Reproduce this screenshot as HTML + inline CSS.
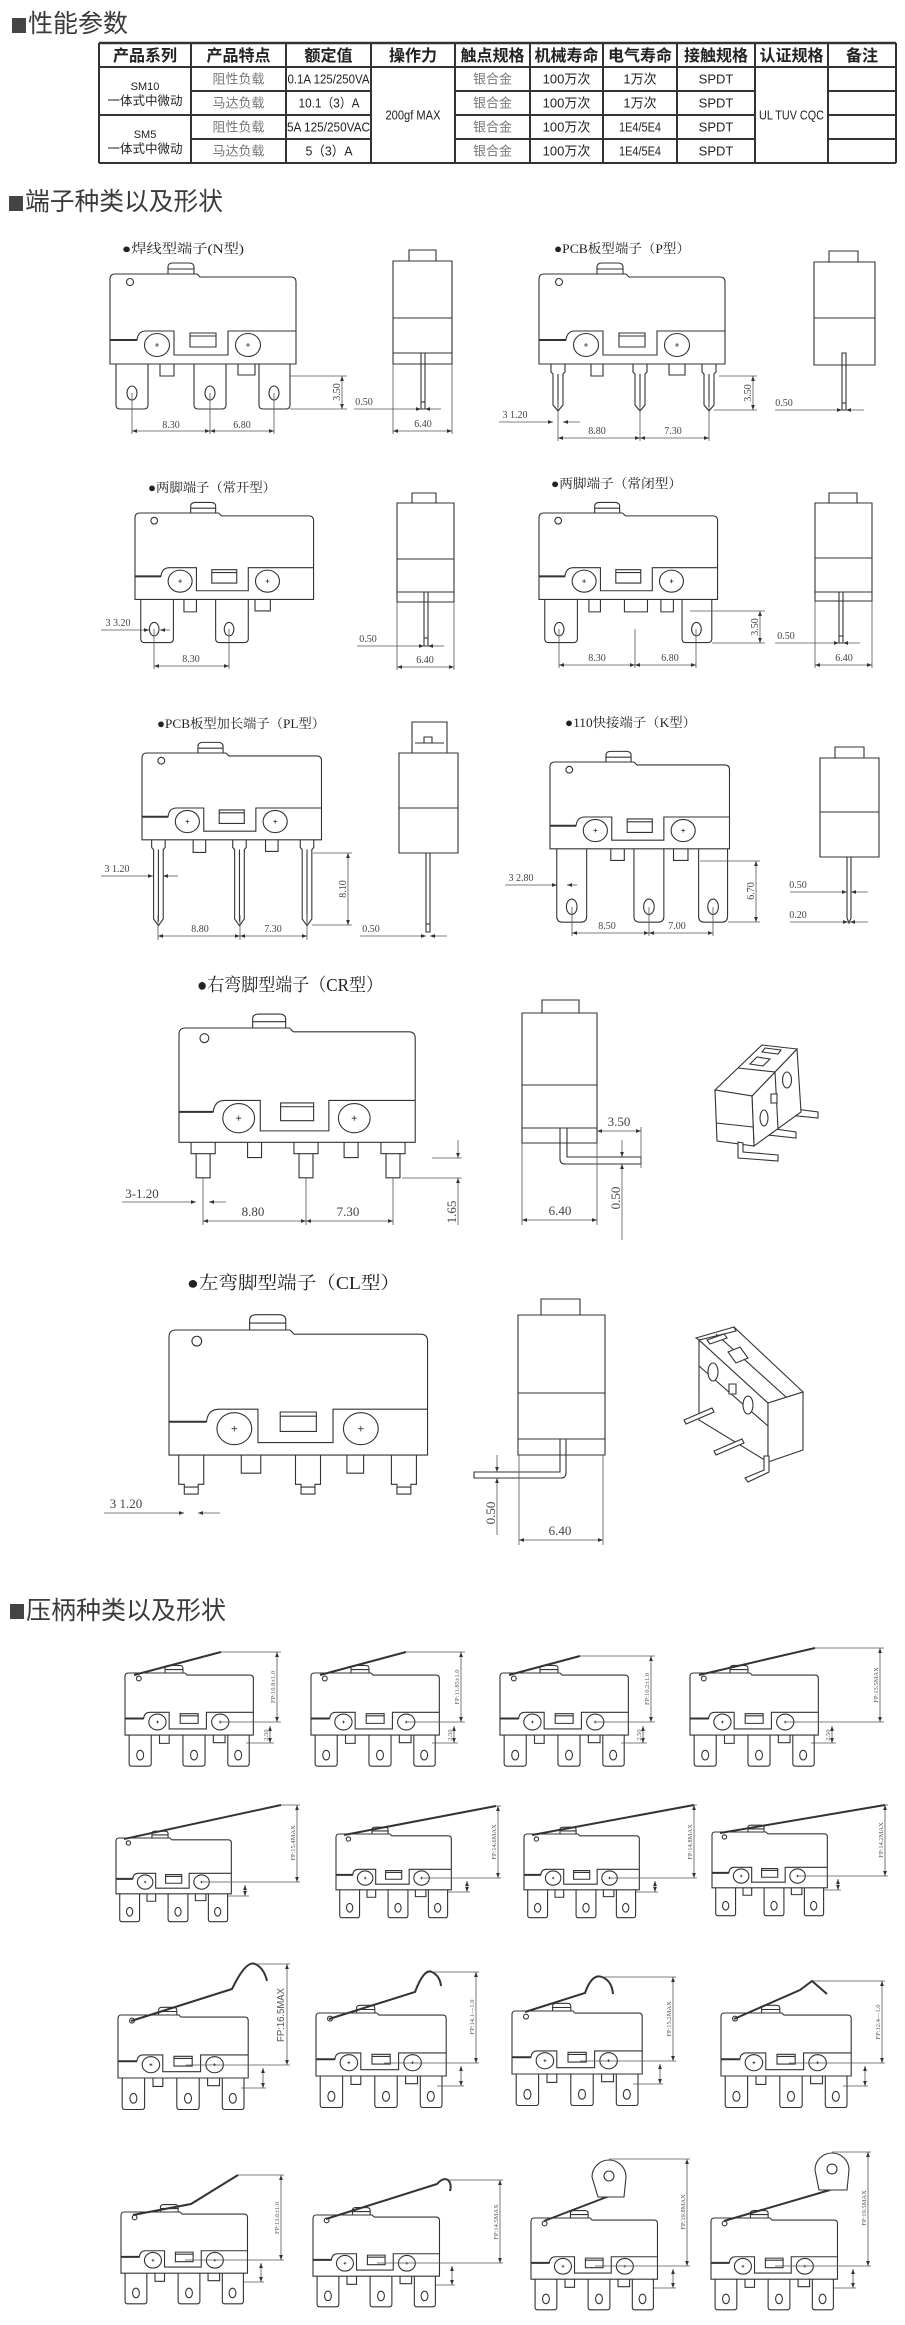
<!DOCTYPE html>
<html><head><meta charset="utf-8">
<style>
html,body{margin:0;padding:0;background:#fff;}
body{width:905px;height:2325px;position:relative;overflow:hidden;}
svg{position:absolute;left:0;top:0;}
svg *{vector-effect:non-scaling-stroke;}
.s{fill:none;stroke:#333;stroke-width:1.1;}
.w{fill:#fff;stroke:#333;stroke-width:1.1;}
.d{fill:none;stroke:#555;stroke-width:0.8;}
.m{marker-start:url(#ar);marker-end:url(#ar);}
.me{marker-end:url(#ar);}
.lv{fill:none;stroke:#333;stroke-width:2;}
.tl{stroke:#333;stroke-width:2;fill:none;}
.dt{font-family:"Liberation Serif","Noto Serif CJK SC",serif;font-size:10px;fill:#444;text-anchor:middle;}
.dt2{font-family:"Liberation Serif","Noto Serif CJK SC",serif;font-size:13px;fill:#444;text-anchor:middle;}
.ft{font-family:"Liberation Serif","Noto Serif CJK SC",serif;font-size:6.5px;fill:#555;text-anchor:middle;}
.lb{font-family:"Liberation Serif","Noto Serif CJK SC",serif;font-size:13px;fill:#222;}
.lb2{font-family:"Liberation Serif","Noto Serif CJK SC",serif;font-size:18px;fill:#222;}
.hd{font-family:"Liberation Sans","Noto Sans CJK SC",sans-serif;font-size:25px;fill:#3a3a3a;}
.th{font-family:"Liberation Sans","Noto Sans CJK SC",sans-serif;font-size:16px;font-weight:bold;fill:#222;text-anchor:middle;}
.td{font-family:"Liberation Sans","Noto Sans CJK SC",sans-serif;font-size:13px;fill:#222;text-anchor:middle;}
.tg{font-family:"Liberation Sans","Noto Sans CJK SC",sans-serif;font-size:13px;fill:#777;text-anchor:middle;}
</style></head>
<body>
<svg width="905" height="2325" viewBox="0 0 905 2325" xmlns="http://www.w3.org/2000/svg">
<defs>
<marker id="ar" viewBox="0 0 8 6" refX="8" refY="3" markerWidth="5" markerHeight="4" orient="auto-start-reverse" markerUnits="userSpaceOnUse"><path d="M0,0L8,3L0,6Z" fill="#333"/></marker>
<g id="bd" class="s">
<path d="M0,5Q0,0 5,0H87L90,3H181Q186,3 186,8V90H0Z"/>
<path d="M58,0V-7Q58,-11 63,-11H79Q84,-11 84,-7V0M58,-5H84"/>
<circle cx="20" cy="8" r="3.5"/>
<path d="M0,66H27Q28,57 36,57H64V81H118V57H186"/>
<path d="M0,66H27" style="stroke-width:2"/>
<ellipse cx="47" cy="71" rx="12.5" ry="11.5"/>
<ellipse cx="138" cy="71" rx="12.5" ry="11.5"/>
<path d="M45,71H49M47,69V73M136,71H140M138,69V73" style="stroke-width:0.8"/>
<rect x="80" y="59" width="26" height="14"/>
<path d="M80,62H106"/>
</g>
<g id="tN" class="s">
<path d="M6,90V131Q6,135 10,135H34Q38,135 38,131V90"/>
<path d="M84,90V131Q84,135 88,135H112Q116,135 116,131V90"/>
<path d="M149,90V131Q149,135 153,135H176Q180,135 180,131V90"/>
<path d="M50,90V102H64V90M128,90V101H145V90"/>
<ellipse cx="22" cy="119" rx="5" ry="7"/><ellipse cx="100" cy="119" rx="5" ry="7"/><ellipse cx="164" cy="119" rx="5" ry="7"/>
</g>
<g id="sw"><use href="#bd"/><use href="#tN"/></g>
</defs>

<!-- ===== Heading 1 + table ===== -->
<rect x="12" y="18" width="14" height="15" fill="#444"/>
<text class="hd" x="28" y="32" textLength="100" lengthAdjust="spacingAndGlyphs">性能参数</text>

<g class="tl">
<path d="M99,43H896" style="stroke-width:2.5"/>
<path d="M99,67H896M191,91H371M455,91H755M828,91H896M99,115H371M455,115H755M828,115H896M191,139H371M455,139H755M828,139H896M99,163H896"/>
<path d="M99,43V163M191,43V163M286,43V163M371,43V163M455,43V163M530,43V163M603,43V163M677,43V163M755,43V163M828,43V163M896,43V163"/>
</g>
<text class="th" x="145" y="61">产品系列</text>
<text class="th" x="238.5" y="61">产品特点</text>
<text class="th" x="328.5" y="61">额定值</text>
<text class="th" x="413" y="61">操作力</text>
<text class="th" x="492.5" y="61">触点规格</text>
<text class="th" x="566.5" y="61">机械寿命</text>
<text class="th" x="640" y="61">电气寿命</text>
<text class="th" x="716" y="61">接触规格</text>
<text class="th" x="791.5" y="61">认证规格</text>
<text class="th" x="862" y="61">备注</text>

<text class="td" x="145" y="90" style="font-size:11px">SM10</text>
<text class="td" x="145" y="105" style="font-size:12.5px">一体式中微动</text>
<text class="td" x="145" y="138" style="font-size:11px">SM5</text>
<text class="td" x="145" y="153" style="font-size:12.5px">一体式中微动</text>

<text class="tg" x="238.5" y="83.5">阻性负载</text>
<text class="tg" x="238.5" y="107.5">马达负载</text>
<text class="tg" x="238.5" y="131.5">阻性负载</text>
<text class="tg" x="238.5" y="155.5">马达负载</text>

<text class="td" x="328.5" y="83.5" textLength="82" lengthAdjust="spacingAndGlyphs">0.1A 125/250VA</text>
<text class="td" x="329" y="107.5" textLength="61" lengthAdjust="spacingAndGlyphs">10.1（3）A</text>
<text class="td" x="328.5" y="131.5" textLength="83" lengthAdjust="spacingAndGlyphs">5A 125/250VAC</text>
<text class="td" x="329" y="155.5" textLength="47" lengthAdjust="spacingAndGlyphs">5（3）A</text>

<text class="td" x="413" y="119.5" textLength="55" lengthAdjust="spacingAndGlyphs">200gf MAX</text>

<text class="tg" x="492.5" y="83.5">银合金</text>
<text class="tg" x="492.5" y="107.5">银合金</text>
<text class="tg" x="492.5" y="131.5">银合金</text>
<text class="tg" x="492.5" y="155.5">银合金</text>

<text class="td" x="566.5" y="83.5">100万次</text>
<text class="td" x="566.5" y="107.5">100万次</text>
<text class="td" x="566.5" y="131.5">100万次</text>
<text class="td" x="566.5" y="155.5">100万次</text>

<text class="td" x="640" y="83.5">1万次</text>
<text class="td" x="640" y="107.5">1万次</text>
<text class="td" x="640" y="131.5" textLength="42" lengthAdjust="spacingAndGlyphs">1E4/5E4</text>
<text class="td" x="640" y="155.5" textLength="42" lengthAdjust="spacingAndGlyphs">1E4/5E4</text>

<text class="td" x="716" y="83.5">SPDT</text>
<text class="td" x="716" y="107.5">SPDT</text>
<text class="td" x="716" y="131.5">SPDT</text>
<text class="td" x="716" y="155.5">SPDT</text>

<text class="td" x="791.5" y="119.5" textLength="65" lengthAdjust="spacingAndGlyphs">UL TUV CQC</text>

<!-- ===== Heading 2 ===== -->
<rect x="9" y="196" width="14" height="15" fill="#444"/>
<text class="hd" x="25" y="210" textLength="198" lengthAdjust="spacingAndGlyphs">端子种类以及形状</text>

<!-- N type -->
<text class="lb" x="122" y="253" textLength="122" lengthAdjust="spacingAndGlyphs">●焊线型端子(N型)</text>
<g transform="translate(110,274)"><use href="#bd"/><use href="#tN"/></g>
<path class="d" d="M290,376H347M290,409H347"/>
<path class="d m" d="M342,376V409"/>
<text class="dt" transform="translate(340,392) rotate(-90)">3.50</text>
<path class="d" d="M132,393V434M210,393V434M274,393V434"/>
<path class="d m" d="M132,431H210"/><path class="d m" d="M210,431H274"/>
<text class="dt" x="171" y="428">8.30</text><text class="dt" x="242" y="428">6.80</text>
<g class="s"><rect x="409" y="250" width="27" height="11"/><rect x="393" y="261" width="59" height="103"/><path d="M393,318H452M393,353H452"/><rect x="421" y="353" width="4" height="56"/><path d="M421,402H425"/></g>
<path class="d me" d="M354,409H421"/><path class="d me" d="M441,409H425"/>
<text class="dt" x="364" y="405">0.50</text>
<path class="d" d="M393,364V434M452,364V434"/><path class="d m" d="M393,431H452"/>
<text class="dt" x="423" y="427">6.40</text>

<!-- P type -->
<text class="lb" x="554" y="253" textLength="136" lengthAdjust="spacingAndGlyphs">●PCB板型端子（P型）</text>
<g transform="translate(539,274)"><use href="#bd"/>
<g class="s">
<path d="M12,90V98L14,100V131L19,137L24,131V100L26,98V90M19,100V133"/>
<path d="M94,90V98L96,100V131L101,137L106,131V100L108,98V90M101,100V133"/>
<path d="M163,90V98L165,100V131L170,137L175,131V100L177,98V90M170,100V133"/>
<path d="M52,90V102H64V90M130,90V101H146V90"/>
</g></g>
<path class="d" d="M719,376H757M714,410H757"/><path class="d m" d="M753,376V410"/>
<text class="dt" transform="translate(751,393) rotate(-90)">3.50</text>
<text class="dt" x="515" y="418">3 1.20</text>
<path class="d me" d="M499,422H553"/><path class="d me" d="M580,422H563"/>
<path class="d" d="M558,400V441M640,400V441M709,400V441"/>
<path class="d m" d="M558,438H640"/><path class="d m" d="M640,438H709"/>
<text class="dt" x="597" y="434">8.80</text><text class="dt" x="673" y="434">7.30</text>
<g class="s"><rect x="829" y="251" width="29" height="11"/><rect x="814" y="262" width="61" height="103"/><path d="M814,318H875"/><rect x="842" y="353" width="4" height="57"/><path d="M842,403H846"/></g>
<path class="d me" d="M775,410H842"/><path class="d me" d="M864,410H846"/>
<text class="dt" x="784" y="406">0.50</text>

<!-- two pin NO -->
<text class="lb" x="148" y="492" textLength="128" lengthAdjust="spacingAndGlyphs">●两脚端子（常开型）</text>
<g transform="translate(135,513) scale(0.96)"><use href="#bd"/>
<g class="s">
<path d="M6,90V131Q6,135 10,135H36Q40,135 40,131V90"/><ellipse cx="20" cy="121" rx="5" ry="7"/>
<path d="M84,90V131Q84,135 88,135H114Q118,135 118,131V90"/><ellipse cx="98" cy="121" rx="5" ry="7"/>
<path d="M51,90V103H64V90M125,90V102H141V90"/>
</g></g>
<text class="dt" x="118" y="626">3 3.20</text>
<path class="d me" d="M101,630H149"/><path class="d me" d="M170,630H160"/>
<path class="d" d="M154,629V669M229,629V669"/><path class="d m" d="M154,666H229"/>
<text class="dt" x="191" y="662">8.30</text>
<g class="s"><rect x="412" y="493" width="24" height="10"/><rect x="397" y="503" width="57" height="99"/><path d="M397,559H454M397,592H454"/><rect x="424" y="592" width="4" height="54"/><path d="M424,638H428"/></g>
<path class="d me" d="M357,646H424"/><path class="d me" d="M444,646H428"/>
<text class="dt" x="368" y="642">0.50</text>
<path class="d" d="M397,602V670M454,602V670"/><path class="d m" d="M397,667H454"/>
<text class="dt" x="425" y="663">6.40</text>

<!-- two pin NC -->
<text class="lb" x="551" y="488" textLength="131" lengthAdjust="spacingAndGlyphs">●两脚端子（常闭型）</text>
<g transform="translate(539,513) scale(0.96)"><use href="#bd"/>
<g class="s">
<path d="M6,90V131Q6,135 10,135H36Q40,135 40,131V90"/><ellipse cx="21" cy="121" rx="5" ry="7"/>
<path d="M149,90V131Q149,135 153,135H176Q180,135 180,131V90"/><ellipse cx="164" cy="121" rx="5" ry="7"/>
<path d="M52,90V103H64V90M89,90V103H113V90M127,90V103H140V90"/>
</g></g>
<path class="d" d="M690,611H765M712,643H765"/><path class="d m" d="M760,611V643"/>
<text class="dt" transform="translate(758,627) rotate(-90)">3.50</text>
<path class="d" d="M635,629V668M559,629V668M696,629V668"/>
<path class="d m" d="M559,665H635"/><path class="d m" d="M635,665H696"/>
<text class="dt" x="597" y="661">8.30</text><text class="dt" x="670" y="661">6.80</text>
<g class="s"><rect x="829" y="493" width="28" height="10"/><rect x="815" y="503" width="57" height="98"/><path d="M815,558H872M815,592H872"/><rect x="839" y="592" width="4" height="51"/><path d="M839,636H843"/></g>
<path class="d me" d="M775,643H839"/><path class="d me" d="M860,643H843"/>
<text class="dt" x="786" y="639">0.50</text>
<path class="d" d="M815,601V668M872,601V668"/><path class="d m" d="M815,665H872"/>
<text class="dt" x="844" y="661">6.40</text>

<!-- PL type -->
<text class="lb" x="157" y="728" textLength="168" lengthAdjust="spacingAndGlyphs">●PCB板型加长端子（PL型）</text>
<g transform="translate(142,753) scale(0.965)"><use href="#bd"/>
<g class="s">
<path d="M10,90V98L12,100V172L17,179L22,172V100L24,98V90M17,100V175"/>
<path d="M94,90V98L96,100V172L101,179L106,172V100L108,98V90M101,100V175"/>
<path d="M164,90V98L166,100V172L171,179L176,172V100L178,98V90M171,100V175"/>
<path d="M53,90V103H66V90M128,90V102H141V90"/>
</g></g>
<text class="dt" x="117" y="872">3 1.20</text>
<path class="d me" d="M101,876H153"/><path class="d me" d="M178,876H163"/>
<path class="d" d="M313,853H352M312,925H352"/><path class="d m" d="M348,853V925"/>
<text class="dt" transform="translate(346,889) rotate(-90)">8.10</text>
<path class="d" d="M158,915V940M240,915V940M307,915V940"/>
<path class="d m" d="M158,936H240"/><path class="d m" d="M240,936H307"/>
<text class="dt" x="200" y="932">8.80</text><text class="dt" x="273" y="932">7.30</text>
<g class="s"><rect x="412" y="722" width="35" height="31"/><path d="M415,743H444"/><rect x="424" y="737" width="8" height="6"/><rect x="399" y="753" width="59" height="100"/><path d="M399,808H458"/><rect x="426" y="853" width="4" height="79"/><path d="M426,924H430"/></g>
<path class="d me" d="M360,936H426"/><path class="d me" d="M447,936H430"/>
<text class="dt" x="371" y="932">0.50</text>

<!-- K type -->
<text class="lb" x="565" y="727" textLength="131" lengthAdjust="spacingAndGlyphs">●110快接端子（K型）</text>
<g transform="translate(550,762) scale(0.965)"><use href="#bd"/>
<g class="s">
<path d="M7,90V160Q7,166 13,166H32Q38,166 38,160V90"/><ellipse cx="22.5" cy="150" rx="5.5" ry="8"/>
<path d="M87,90V160Q87,166 93,166H112Q118,166 118,160V90"/><ellipse cx="102.5" cy="150" rx="5.5" ry="8"/>
<path d="M154,90V160Q154,166 160,166H178Q184,166 184,160V90"/><ellipse cx="169" cy="150" rx="5.5" ry="8"/>
<path d="M63,90V102H77V90M128,90V102H143V90"/>
</g></g>
<text class="dt" x="521" y="881">3 2.80</text>
<path class="d me" d="M505,885H557"/><path class="d me" d="M577,885H567"/>
<path class="d" d="M700,861H760M728,922H760"/><path class="d m" d="M756,861V922"/>
<text class="dt" transform="translate(754,891) rotate(-90)">6.70</text>
<path class="d" d="M572,907V936M649,907V936M713,907V936"/>
<path class="d m" d="M572,933H649"/><path class="d m" d="M649,933H713"/>
<text class="dt" x="607" y="929">8.50</text><text class="dt" x="677" y="929">7.00</text>
<g class="s"><rect x="835" y="747" width="29" height="11"/><rect x="820" y="758" width="59" height="99"/><path d="M820,812H879"/><path d="M847,857V918L849,923L851,918V857"/></g>
<path class="d me" d="M790,892H847"/><path class="d me" d="M868,892H851"/>
<text class="dt" x="798" y="888">0.50</text>
<path class="d me" d="M790,922H848"/><path class="d me" d="M868,922H850"/>
<text class="dt" x="798" y="918">0.20</text>

<!-- CR type -->
<text class="lb2" x="197" y="991" textLength="186" lengthAdjust="spacingAndGlyphs">●右弯脚型端子（CR型）</text>
<g transform="translate(179,1028) scale(1.27)"><use href="#bd"/>
<g class="s">
<path d="M9.5,90V99H13.5V118H24.5V99H28.5V90M9.5,99H28.5"/>
<path d="M90.5,90V99H94.5V118H105.5V99H109.5V90M90.5,99H109.5"/>
<path d="M159,90V99H163V118H174V99H178V90M159,99H178"/>
<path d="M54,90V102H65V90M130,90V102H141V90"/>
</g></g>
<path class="d" d="M432,1158H462M402,1178H462"/>
<path class="d me" d="M458,1140V1158"/><path class="d me" d="M458,1225V1178"/>
<text class="dt2" transform="translate(456,1212) rotate(-90)">1.65</text>
<text class="dt2" x="142" y="1198">3-1.20</text>
<path class="d me" d="M122,1202H196"/><path class="d me" d="M226,1202H209"/>
<path class="d" d="M203,1178V1225M306,1178V1225M393,1178V1225"/>
<path class="d m" d="M203,1221H306"/><path class="d m" d="M306,1221H393"/>
<text class="dt2" x="253" y="1216">8.80</text><text class="dt2" x="348" y="1216">7.30</text>
<g class="s"><rect x="542" y="1000" width="37" height="13"/><rect x="522" y="1013" width="75" height="130"/><path d="M522,1085H597M522,1128H597"/><path d="M560,1128V1159Q560,1164 565,1164H641V1157H567V1128"/></g>
<path class="d" d="M641,1127V1168"/>
<path class="d m" d="M597,1131H641"/>
<text class="dt2" x="619" y="1126">3.50</text>
<path class="d me" d="M622,1140V1157"/><path class="d me" d="M622,1240V1164"/>
<text class="dt2" transform="translate(620,1198) rotate(-90)">0.50</text>
<path class="d" d="M522,1143V1225M597,1143V1225"/><path class="d m" d="M522,1220H597"/>
<text class="dt2" x="560" y="1215">6.40</text>
<!-- CR iso -->
<g class="w">
<polygon points="788,1108 818,1112 818,1118 788,1115"/>
<polygon points="768,1128 796,1132 796,1138 768,1135"/>
<polygon points="752,1096 797,1049 801,1112 754,1146"/>
<polygon points="715,1090 762,1045 797,1049 752,1096"/>
<polygon points="715,1090 752,1096 754,1146 717,1141"/>
<path d="M716,1123L753,1127M738,1068L775,1072L778,1128" style="fill:none"/>
<polygon points="750,1064 757,1057 770,1059 763,1066"/>
<polygon points="765,1048 781,1050 778,1054 762,1052"/>
<ellipse cx="787" cy="1080" rx="4.5" ry="8"/>
<ellipse cx="764" cy="1118" rx="4" ry="8"/>
<rect x="771" y="1094" width="6" height="9"/>
<path d="M738,1142V1158L778,1161V1155L743,1152V1143Z"/>
</g>

<!-- CL type -->
<text class="lb2" x="187" y="1289" textLength="213" lengthAdjust="spacingAndGlyphs">●左弯脚型端子（CL型）</text>
<g transform="translate(169,1330) scale(1.39)"><use href="#bd"/>
<g class="s">
<path d="M7,90V111H11V118H21V111H25V90M11,113H21"/>
<path d="M91,90V111H95V118H105V111H109V90M95,113H105"/>
<path d="M160,90V111H164V118H174V111H178V90M164,113H174"/>
<path d="M52,90V103H66V90M128,90V103H140V90"/>
</g></g>
<text class="dt2" x="126" y="1508">3 1.20</text>
<path class="d me" d="M104,1513H184"/><path class="d me" d="M220,1513H198"/>
<g class="s"><rect x="541" y="1299" width="39" height="16"/><rect x="518" y="1315" width="87" height="140"/><path d="M518,1393H605M518,1439H605"/><path d="M560,1439V1472H474V1478H561Q566,1478 566,1473V1439"/></g>
<path class="d me" d="M497,1455V1472"/><path class="d me" d="M497,1535V1478"/>
<text class="dt2" transform="translate(495,1513) rotate(-90)">0.50</text>
<path class="d" d="M519,1455V1545M603,1455V1545"/><path class="d m" d="M519,1540H603"/>
<text class="dt2" x="560" y="1535">6.40</text>
<!-- CL iso -->
<g class="w">
<polygon points="699,1340 768,1403 768,1462 699,1420"/>
<polygon points="734,1327 803,1392 768,1403 699,1340"/>
<polygon points="768,1403 803,1392 803,1450 768,1462"/>
<polygon points="696,1338 734,1327 736,1331 699,1340"/>
<path d="M699,1366L768,1426M716,1334L786,1397" style="fill:none"/>
<polygon points="728,1352 740,1347 748,1358 736,1363"/>
<polygon points="707,1340 724,1334 727,1338 710,1344"/>
<ellipse cx="713" cy="1372" rx="5" ry="9"/>
<ellipse cx="748" cy="1405" rx="5" ry="9"/>
<rect x="729" y="1384" width="7" height="10"/>
<polygon points="684,1420 712,1408 714,1412 686,1424"/>
<polygon points="714,1451 742,1439 744,1443 716,1455"/>
<path d="M745,1478L764,1470V1456H769V1472L748,1482Z"/>
</g>

<!-- ===== Heading 3 ===== -->
<rect x="10" y="1604" width="14" height="15" fill="#444"/>
<text class="hd" x="26" y="1619" textLength="200" lengthAdjust="spacingAndGlyphs">压柄种类以及形状</text>

<!-- Row 1 levers -->
<use href="#sw" transform="translate(125,1673) scale(0.69)"/>
<use href="#sw" transform="translate(311,1673) scale(0.69)"/>
<use href="#sw" transform="translate(500,1673) scale(0.69)"/>
<use href="#sw" transform="translate(690,1673) scale(0.69)"/>
<path class="lv" d="M134,1675L221,1652"/>
<path class="lv" d="M320,1675L406,1652"/>
<path class="lv" d="M509,1675L580,1656"/>
<path class="lv" d="M699,1675L815,1648"/>
<path class="d" d="M221,1652H281M220,1722H281M246,1743H274"/>
<path class="d m" d="M277,1652V1722"/><path class="d m" d="M270,1726V1743"/>
<text class="ft" transform="translate(275,1687) rotate(-90)">FP:10.8±1.0</text>
<text class="ft" transform="translate(268,1735) rotate(-90)">2.50</text>
<path class="d" d="M406,1652H465M406,1722H465M432,1743H458"/>
<path class="d m" d="M461,1652V1722"/><path class="d m" d="M454,1726V1743"/>
<text class="ft" transform="translate(459,1687) rotate(-90)">FP:11.85±1.0</text>
<text class="ft" transform="translate(452,1735) rotate(-90)">2.50</text>
<path class="d" d="M580,1656H655M595,1722H655M621,1743H647"/>
<path class="d m" d="M651,1656V1722"/><path class="d m" d="M643,1726V1743"/>
<text class="ft" transform="translate(649,1689) rotate(-90)">FP:10.2±1.0</text>
<text class="ft" transform="translate(641,1735) rotate(-90)">2.50</text>
<path class="d" d="M815,1648H884M785,1722H884M811,1743H836"/>
<path class="d m" d="M880,1648V1722"/><path class="d m" d="M832,1726V1743"/>
<text class="ft" transform="translate(878,1685) rotate(-90)">FP:13.5MAX</text>
<text class="ft" transform="translate(830,1735) rotate(-90)">2.50</text>

<!-- Row 2 levers -->
<use href="#sw" transform="translate(116,1838) scale(0.62)"/>
<use href="#sw" transform="translate(336,1834) scale(0.62)"/>
<use href="#sw" transform="translate(524,1834) scale(0.62)"/>
<use href="#sw" transform="translate(712,1832) scale(0.62)"/>
<path class="lv" d="M124,1839L281,1805"/>
<path class="lv" d="M344,1835L496,1806"/>
<path class="lv" d="M532,1835L694,1805"/>
<path class="lv" d="M720,1833L885,1805"/>
<path class="d" d="M281,1805H300M202,1882H300M228,1896H249"/>
<path class="d m" d="M297,1805V1882"/><path class="d m" d="M245,1885V1896"/>
<text class="ft" transform="translate(295,1843) rotate(-90)">FP:15.4MAX</text>
<path class="d" d="M496,1806H501M422,1878H501M448,1892H470"/>
<path class="d m" d="M498,1806V1878"/><path class="d m" d="M467,1881V1892"/>
<text class="ft" transform="translate(496,1842) rotate(-90)">FP:14.6MAX</text>
<path class="d" d="M694,1805H697M610,1878H697M636,1892H658"/>
<path class="d m" d="M694,1805V1878"/><path class="d m" d="M655,1881V1892"/>
<text class="ft" transform="translate(692,1842) rotate(-90)">FP:14.8MAX</text>
<path class="d" d="M885,1805H888M798,1876H888M824,1890H841"/>
<path class="d m" d="M885,1805V1876"/><path class="d m" d="M838,1879V1890"/>
<text class="ft" transform="translate(883,1840) rotate(-90)">FP:14.2MAX</text>

<!-- Row 3 levers -->
<use href="#sw" transform="translate(118,2015) scale(0.70)"/>
<use href="#sw" transform="translate(316,2013) scale(0.70)"/>
<use href="#sw" transform="translate(512,2011) scale(0.70)"/>
<use href="#sw" transform="translate(721,2013) scale(0.70)"/>
<path class="lv" d="M131,2021L232,1989Q246,1960 255,1964Q264,1968 267,1981"/>
<path class="lv" d="M329,2019L415,1992Q424,1968 432,1972Q440,1976 441,1986"/>
<path class="lv" d="M525,2012L585,1993Q592,1973 602,1977Q612,1981 613,1994"/>
<path class="lv" d="M734,2019L800,1990L812,1981L827,1994"/>
<path class="d" d="M255,1964H290M186,2065H290M241,2088H266"/>
<path class="d m" d="M287,1964V2065"/><path class="d m" d="M263,2068V2088"/>
<text transform="translate(284,2015) rotate(-90)" style="font-family:'Liberation Sans',sans-serif;font-size:10px;fill:#555;text-anchor:middle" textLength="54" lengthAdjust="spacingAndGlyphs">FP:16.5MAX</text>
<path class="d" d="M432,1972H479M384,2063H479M437,2086H464"/>
<path class="d m" d="M476,1972V2063"/><path class="d m" d="M461,2066V2086"/>
<text class="ft" transform="translate(474,2017) rotate(-90)">FP:14.1—1.0</text>
<path class="d" d="M602,1977H676M580,2061H676M633,2084H663"/>
<path class="d m" d="M673,1977V2061"/><path class="d m" d="M660,2064V2084"/>
<text class="ft" transform="translate(671,2019) rotate(-90)">FP:15.2MAX</text>
<path class="d" d="M812,1981H885M789,2063H885M843,2086H868"/>
<path class="d m" d="M882,1981V2063"/><path class="d m" d="M865,2066V2086"/>
<text class="ft" transform="translate(880,2022) rotate(-90)">FP:12.4—1.0</text>

<!-- Row 4 levers -->
<use href="#sw" transform="translate(121,2212) scale(0.68)"/>
<use href="#sw" transform="translate(313,2215) scale(0.68)"/>
<use href="#sw" transform="translate(531,2218) scale(0.68)"/>
<use href="#sw" transform="translate(711,2218) scale(0.68)"/>
<path class="lv" d="M133,2215L191,2204L238,2175"/>
<path class="lv" d="M326,2219L437,2184Q443,2177 448,2180Q452,2184 450,2191"/>
<path class="lv" d="M544,2221L612,2195"/>
<path class="lv" d="M724,2221L830,2190"/>
<g class="w">
<path d="M592,2177A17,17 0 1 1 626,2177L624,2197H598Z"/><circle cx="609" cy="2176" r="5"/>
<path d="M815,2170A17,17 0 1 1 849,2170L847,2190H819Z"/><circle cx="832" cy="2169" r="5"/>
</g>
<path class="d" d="M238,2175H284M185,2260H284M244,2282H264"/>
<path class="d m" d="M281,2175V2260"/><path class="d m" d="M261,2263V2282"/>
<text class="ft" transform="translate(279,2218) rotate(-90)">FP:13.6±1.0</text>
<path class="d" d="M448,2180H503M377,2263H503M436,2285H455"/>
<path class="d m" d="M500,2180V2263"/><path class="d m" d="M452,2266V2285"/>
<text class="ft" transform="translate(498,2222) rotate(-90)">FP:14.5MAX</text>
<path class="d" d="M609,2159H690M595,2266H690M654,2288H676"/>
<path class="d m" d="M687,2159V2266"/><path class="d m" d="M673,2269V2288"/>
<text class="ft" transform="translate(685,2212) rotate(-90)">FP:19.8MAX</text>
<path class="d" d="M832,2152H871M775,2266H871M834,2288H856"/>
<path class="d m" d="M868,2152V2266"/><path class="d m" d="M853,2269V2288"/>
<text class="ft" transform="translate(866,2208) rotate(-90)">FP:19.5MAX</text>
</svg>
</body></html>
